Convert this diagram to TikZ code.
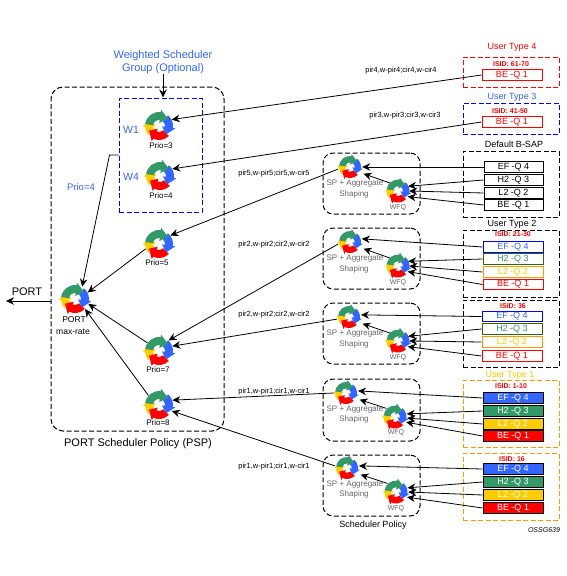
\documentclass[tikz,border=0pt]{standalone}
\usepackage{fontspec}
\setmainfont{Liberation Sans}
\usetikzlibrary{arrows.meta}
\definecolor{cgreen}{HTML}{339966}
\definecolor{cblue}{HTML}{3366FF}
\definecolor{cred}{HTML}{FF0000}
\definecolor{cyel}{HTML}{FFCC00}
\definecolor{corange}{HTML}{FF9900}
\definecolor{colive}{HTML}{336600}
\definecolor{cgrayt}{HTML}{666666}
\newcommand{\fsz}[1]{\fontsize{#1}{#1}\selectfont}
\tikzset{
  conn/.style={draw=black,line width=0.8pt,-{Stealth[length=8pt,width=7.5pt]}},
  cont/.style={draw,dash pattern=on 5pt off 2.5pt,line width=1pt,inner sep=0pt,fill=none},
  grp/.style={cont,rounded corners=10pt,minimum width=97pt,minimum height=61pt},
  ctr/.style={cont,minimum width=96pt},
  qb/.style={draw,line width=1pt,minimum width=60pt,minimum height=10.5pt,inner sep=0pt,font=\fsz{9}},
  qk/.style={qb,draw=black,text=black,fill=white},
  qr/.style={qb,draw=cred,text=cred,fill=white},
  qblue/.style={qb,draw=blue,text=cblue,fill=white},
  qg/.style={qb,draw=colive,text=cgreen,fill=white},
  qy/.style={qb,draw=corange,text=cyel,fill=white},
  fb/.style={qb,draw=black,text=white,fill=cblue},
  fg/.style={qb,draw=black,text=white,fill=cgreen},
  fy/.style={qb,draw=black,text=white,fill=cyel},
  fr/.style={qb,draw=black,text=white,fill=cred},
  isid/.style={inner sep=0pt,text=cred,font=\fsz{7}\bfseries},
  ut/.style={inner sep=0pt,font=\fsz{9}},
  plab/.style={inner sep=0pt,font=\fsz{8}},
  elab/.style={inner sep=0pt,font=\fsz{7.5}},
  grayl/.style={inner sep=0pt,text=cgrayt,font=\fsz{8}},
  wfql/.style={inner sep=0pt,text=cgrayt,font=\fsz{7}},
  anch/.style={circle,inner sep=0pt,minimum size=#1,draw=none},
}
% name, x, y, anchor-circle diameter, icon radius
\newcommand{\schedicon}[5]{%
  \node[anch=#4] (#1) at (#2,#3) {};
  \begin{scope}[shift={(#2,#3)},x=1pt,y=1pt,scale=#5/14]
    \fill[cyel] (-140:6) arc[start angle=-140,end angle=-178,radius=6] -- (-178:3.5) -- (140:10.5) -- (-178:16.5) -- (-178:14) arc[start angle=-178,end angle=-140,radius=14] -- cycle;
    \fill[cred] (-45:6) arc[start angle=-45,end angle=-115,radius=6] -- (-115:3) -- (-155:11) -- (-115:17) -- (-115:14) arc[start angle=-115,end angle=-45,radius=14] -- cycle;
    \fill[cblue] (50:6) arc[start angle=50,end angle=-8,radius=6] -- (-8:3) -- (-50:11) -- (-8:16.5) -- (-8:14) arc[start angle=-8,end angle=50,radius=14] -- cycle;
    \fill[cgreen] (172:6) arc[start angle=172,end angle=83,radius=6] -- (83:3) -- (40:11.5) -- (83:16.5) -- (83:14) arc[start angle=83,end angle=172,radius=14] -- cycle;
  \end{scope}
}
\begin{document}
\begin{tikzpicture}[x=1pt,y=-1pt]
\useasboundingbox[fill=white] (0,0) rectangle (566,576);

% PSP container and weighted group
\node[cont,rounded corners=12pt,minimum width=173pt,minimum height=344pt] (psp) at (137.5,259) {};
\node[cont,draw=blue,minimum width=83pt,minimum height=114pt] (wsg) at (160.5,155) {};
\node[inner sep=0pt,text=cblue,align=center,font=\fontsize{11}{13}\selectfont] (wlabel) at (163,62.5) {Weighted Scheduler\\Group (Optional)};
\node[inner sep=0pt,text=cblue,font=\fsz{10.5}] (w1) at (131,130) {W1};
\node[inner sep=0pt,text=cblue,font=\fsz{10.5}] (w4) at (131,177) {W4};
\node[inner sep=0pt,text=cblue,font=\fsz{9.5}] (prio4b) at (81,187) {Prio=4};
\node[inner sep=0pt,font=\fsz{11}] (pspl) at (138,444) {PORT Scheduler Policy (PSP)};
\node[inner sep=0pt,font=\fsz{11}] (portl) at (27,292) {PORT};
\coordinate (portin) at (51,301);
\coordinate (portout) at (6,301);

% PSP schedulers
\schedicon{port}{75}{299}{28}{14}
\schedicon{p3}{159}{126}{28}{14}
\schedicon{p4}{160}{176}{28}{14}
\schedicon{p5}{159}{244}{28}{14}
\schedicon{p7}{159}{351}{28}{14}
\schedicon{p8}{159}{405}{28}{14}
\node[plab] (lp3) at (161,146) {Prio=3};
\node[plab] (lp4) at (161,196) {Prio=4};
\node[plab] (lp5) at (157,263) {Prio=5};
\node[plab] (lp7) at (158,370) {Prio=7};
\node[plab] (lp8) at (158,423) {Prio=8};
\node[inner sep=0pt,font=\fsz{8.5}] (lport) at (74,320) {PORT};
\node[inner sep=0pt,font=\fsz{8.5}] (lmax) at (73,332) {max-rate};

% Scheduler policy groups
\node[grp] (g1) at (371.5,183.5) {};
\node[grp] (g2) at (371.5,258.5) {};
\node[grp] (g3) at (371.5,333.5) {};
\node[grp,minimum height=62pt] (g4) at (371.5,410) {};
\node[grp] (g5) at (371.5,485.5) {};
\foreach \nm/\yy in {a/184,b/259,c/334,d/409.5,e/484.5}{
  \node[grayl] (sp\nm) at (355,\yy) {SP + Aggregate};
  \node[grayl] (sh\nm) at (354,\yy+10) {Shaping};
}
\schedicon{s1}{350}{167}{24}{11}
\schedicon{f1}{398}{191}{22}{11.5}
\schedicon{s2}{350}{242}{24}{11}
\schedicon{f2}{398}{266}{22}{11.5}
\schedicon{s3}{349}{317}{24}{11}
\schedicon{f3}{398}{341}{22}{11.5}
\schedicon{s4}{346}{393}{24}{11}
\schedicon{f4}{395}{417}{24}{11.5}
\schedicon{s5}{347}{468}{24}{11}
\schedicon{f5}{396}{492}{24}{11.5}
\node[wfql] (wf1) at (398,208) {WFQ};
\node[wfql] (wf2) at (398,283) {WFQ};
\node[wfql] (wf3) at (398,358) {WFQ};
\node[wfql] (wf4) at (396,433) {WFQ};
\node[wfql] (wf5) at (396,509) {WFQ};
\node[inner sep=0pt,font=\fsz{9}] (schedp) at (373,525) {Scheduler Policy};

% Right-hand containers
\node[ctr,draw=cred,minimum height=30pt] (c4) at (511,72) {};
\node[ctr,draw=blue,minimum height=31pt] (c3) at (511,118.5) {};
\node[ctr,draw=black,minimum height=66pt] (c0) at (511,184) {};
\node[ctr,draw=black,minimum height=67pt] (c2) at (511,263.5) {};
\node[ctr,draw=black,minimum height=67pt] (c5) at (511,333.5) {};
\node[ctr,draw=corange,minimum height=67pt] (c1) at (511,413.5) {};
\node[ctr,draw=corange,minimum height=67pt] (c6) at (511,486.5) {};

\node[ut,text=cred] (u4) at (512,47) {User Type 4};
\node[ut,text=cblue] (u3) at (512,97) {User Type 3};
\node[ut] (u0) at (514,144) {Default B-SAP};
\node[ut] (u2) at (512,224) {User Type 2};
\node[ut,text=cyel] (u1) at (510,375) {User Type 1};
\node[isid] (i4) at (511,64) {ISID: 61-70};
\node[isid] (i3) at (510,111) {ISID: 41-50};
\node[isid] (i2) at (513,234) {ISID: 21-30};
\node[isid] (i5) at (513,306) {ISID: 36};
\node[isid] (i1) at (511,386) {ISID: 1-10};
\node[isid] (i6) at (512,459) {ISID: 16};

% Queues
\node[qr] (b4) at (512,75) {BE -Q 1};
\node[qr] (b3) at (512,122) {BE -Q 1};
\node[qk,minimum width=59pt] (q0e) at (513.5,167) {EF -Q 4};
\node[qk,minimum width=59pt] (q0h) at (513.5,180) {H2 -Q 3};
\node[qk,minimum width=59pt] (q0l) at (513.5,193) {L2 -Q 2};
\node[qk,minimum width=59pt] (q0b) at (513.5,205) {BE -Q 1};
\node[qblue] (q2e) at (513,247) {EF -Q 4};
\node[qg] (q2h) at (513,259) {H2 -Q 3};
\node[qy] (q2l) at (513,272) {L2 -Q 2};
\node[qr] (q2b) at (513,284.5) {BE -Q 1};
\node[qblue] (q5e) at (512,316.5) {EF -Q 4};
\node[qg] (q5h) at (512,329) {H2 -Q 3};
\node[qy] (q5l) at (512,342) {L2 -Q 2};
\node[qr] (q5b) at (512,356) {BE -Q 1};
\node[fb] (q1e) at (513,398) {EF -Q 4};
\node[fg] (q1h) at (513,411) {H2 -Q 3};
\node[fy] (q1l) at (513,424) {L2 -Q 2};
\node[fr] (q1b) at (513,436) {BE -Q 1};
\node[fb] (q6e) at (513,469) {EF -Q 4};
\node[fg] (q6h) at (513,482) {H2 -Q 3};
\node[fy] (q6l) at (513,495) {L2 -Q 2};
\node[fr] (q6b) at (513,508) {BE -Q 1};

% Edge labels
\node[elab] (e4) at (401,71) {pir4,w-pir4;cir4,w-cir4};
\node[elab] (e3) at (405,116) {pir3,w-pir3;cir3,w-cir3};
\node[elab] (e5) at (274,174) {pir5,w-pir5;cir5,w-cir5};
\node[elab] (e2) at (274,245) {pir2,w-pir2;cir2,w-cir2};
\node[elab] (e2b) at (274,315) {pir2,w-pir2;cir2,w-cir2};
\node[elab] (e1) at (274,392) {pir1,w-pir1;cir1,w-cir1};
\node[elab] (e1b) at (274,467) {pir1,w-pir1;cir1,w-cir1};
\node[inner sep=0pt,font=\fsz{7}\itshape] (ossg) at (544,530) {OSSG639};

% Connectors
\draw[conn] (wlabel.south) -- (wlabel.south |- wsg.north);
\draw[conn] (portin) -- (portout);
\draw[conn] (wsg.west) -- ++(-9,0) -- (port.60);
\draw[conn] (p5.200) -- (port.27);
\draw[conn] (p7.145) -- (port.-20);
\draw[conn] (p8.138) -- (port.-45);
\draw[conn] (b4.west) -- (p3.27);
\draw[conn] (b3.west) -- (p4.30);
\draw[conn] (s1.190) -- (p5.37);
\draw[conn] (s2.190) -- (p7.48);
\draw[conn] (s3.190) -- (p7.20);
\draw[conn] (s4.180) -- (p8.20);
\draw[conn] (s5.170) -- (p8.-25);
\foreach \i in {1,...,5}{
  \draw[conn,shorten >=3pt] (f\i.135) -- (s\i.-28);
}
\draw[conn] (q0e.west) -- (s1.0);
\draw[conn] (q0h.west) -- (f1.25);
\draw[conn] (q0l.west) -- (f1.0);
\draw[conn] (q0b.west) -- (f1.-30);
\draw[conn] (q2e.west) -- (s2.15);
\draw[conn] (q2h.west) -- (f2.25);
\draw[conn] (q2l.west) -- (f2.0);
\draw[conn] (q2b.west) -- (f2.-30);
\draw[conn] (q5e.west) -- (s3.10);
\draw[conn] (q5h.west) -- (f3.25);
\draw[conn] (q5l.west) -- (f3.0);
\draw[conn] (q5b.west) -- (f3.-30);
\draw[conn] (q1e.west) -- (s4.10);
\draw[conn] (q1h.west) -- (f4.15);
\draw[conn] (q1l.west) -- (f4.-5);
\draw[conn] (q1b.west) -- (f4.-25);
\draw[conn] (q6e.west) -- (s5.10);
\draw[conn] (q6h.west) -- (f5.20);
\draw[conn] (q6l.west) -- (f5.0);
\draw[conn] (q6b.west) -- (f5.-25);
\end{tikzpicture}
\end{document}
